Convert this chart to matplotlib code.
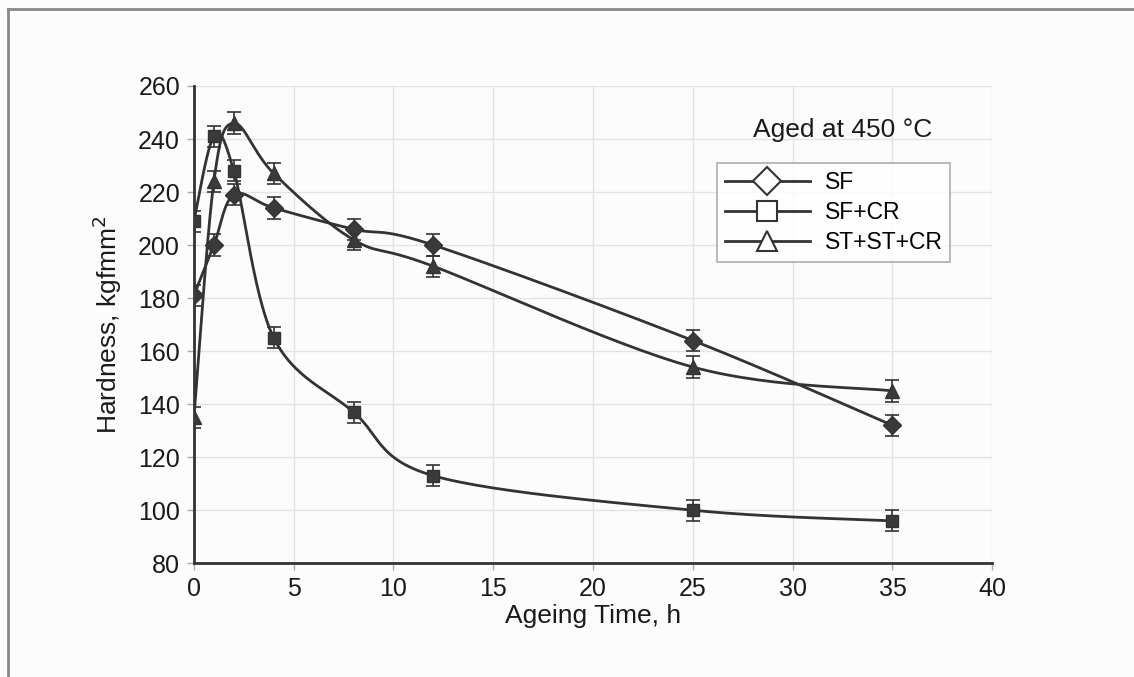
import numpy as np
import matplotlib.pyplot as plt
from matplotlib.lines import Line2D

plt.rcParams['font.family'] = ['Liberation Sans', 'DejaVu Sans']

# Данные
time_h = [0, 1, 2, 4, 8, 12, 25, 35]
sf = [181, 200, 219, 214, 206, 200, 164, 132]
sf_cr = [209, 241, 228, 165, 137, 113, 100, 96]
st_st_cr = [135, 224, 246, 227, 202, 192, 154, 145]
err = 4

series = [
    ('SF', sf, 'D', 9),
    ('SF+CR', sf_cr, 's', 9),
    ('ST+ST+CR', st_st_cr, '^', 10),
]

dark = '#333333'


def smooth(x, y, n=30):
    # сглаживание как в Excel (кривые Безье через точки)
    x = np.asarray(x, float)
    y = np.asarray(y, float)
    px, py = [x[0]], [y[0]]
    t = np.linspace(0, 1, n)[1:]
    for i in range(len(x) - 1):
        i0 = max(i - 1, 0)
        i3 = min(i + 2, len(x) - 1)
        c1x = x[i] + (x[i + 1] - x[i0]) / 6
        c1y = y[i] + (y[i + 1] - y[i0]) / 6
        c2x = x[i + 1] - (x[i3] - x[i]) / 6
        c2y = y[i + 1] - (y[i3] - y[i]) / 6
        bx = ((1 - t) ** 3 * x[i] + 3 * (1 - t) ** 2 * t * c1x
              + 3 * (1 - t) * t ** 2 * c2x + t ** 3 * x[i + 1])
        by = ((1 - t) ** 3 * y[i] + 3 * (1 - t) ** 2 * t * c1y
              + 3 * (1 - t) * t ** 2 * c2y + t ** 3 * y[i + 1])
        px.extend(bx)
        py.extend(by)
    return px, py


fig = plt.figure(figsize=(11.34, 6.77), dpi=100)
fig.patch.set_facecolor('#fcfcfc')
# рамка картинки
fig.add_artist(Line2D([0.007, 0.007], [0, 0.987], color='#888888', lw=2))
fig.add_artist(Line2D([0.007, 1], [0.987, 0.987], color='#888888', lw=2))

ax = fig.add_axes([0.171, 0.168, 0.704, 0.705])
ax.set_facecolor('#fcfcfc')

for name, vals, m, ms in series:
    sx, sy = smooth(time_h, vals)
    ax.plot(sx, sy, color=dark, lw=2, zorder=3)
    ax.errorbar(time_h, vals, yerr=err, fmt=m, color=dark, ms=ms,
                mec=dark, mfc='#3a3a3a', ecolor=dark, elinewidth=1.2,
                capsize=5, capthick=1.2, zorder=4)

ax.set_xlim(0, 40)
ax.set_ylim(80, 260)
ax.set_xticks(range(0, 41, 5))
ax.set_yticks(range(80, 261, 20))
ax.grid(True, color='#e3e3e3', lw=1)
ax.set_axisbelow(True)
for s in ['top', 'right']:
    ax.spines[s].set_visible(False)
for s in ['left', 'bottom']:
    ax.spines[s].set_color(dark)
    ax.spines[s].set_linewidth(2)
ax.tick_params(labelsize=18, color='#aaaaaa', length=5, width=1, pad=5)
for lab in ax.get_xticklabels() + ax.get_yticklabels():
    lab.set_color('#1a1a1a')

ax.set_xlabel('Ageing Time, h', fontsize=19, labelpad=2, color='#1a1a1a')
ax.set_ylabel('Hardness, kgfmm$^{2}$', fontsize=19, labelpad=10,
              color='#1a1a1a')

handles = [Line2D([], [], color=dark, lw=2, marker=m, ms=ms + 5,
                  mfc='white', mec=dark, mew=1.5)
           for name, vals, m, ms in series]
leg = ax.legend(handles, [s[0] for s in series], loc='upper left',
                bbox_to_anchor=(0.655, 0.839), fontsize=16.5, frameon=True,
                fancybox=False, edgecolor='#999999', handlelength=3.7,
                borderpad=0.35, labelspacing=0.3, handletextpad=0.65,
                borderaxespad=0)
leg.get_frame().set_linewidth(1.2)
ax.text(0.812, 0.908, 'Aged at 450 °C', transform=ax.transAxes,
        fontsize=19, ha='center', va='center', color='#1a1a1a')

fig.savefig('out.png', dpi=100, facecolor=fig.get_facecolor())
